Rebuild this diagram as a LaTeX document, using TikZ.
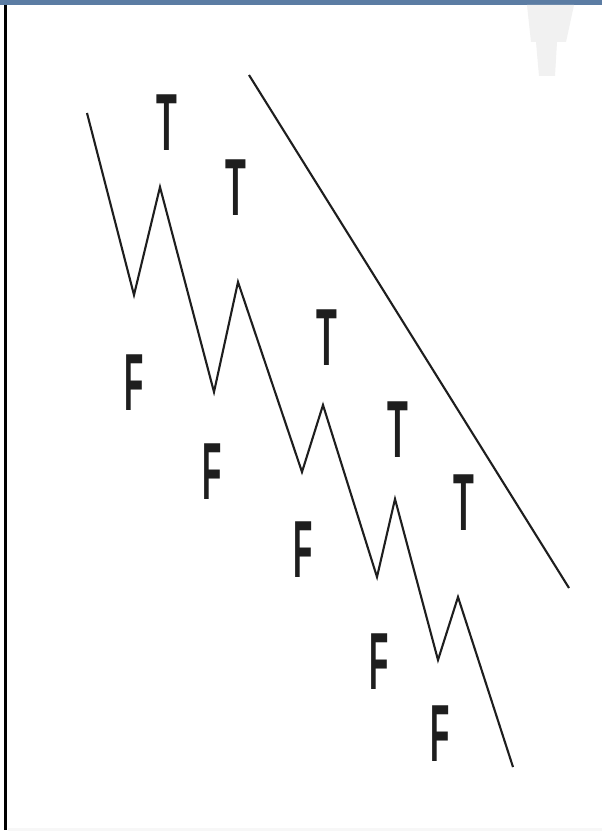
\documentclass[tikz,border=0pt]{standalone}
\usepackage{fontspec}
\newfontfamily\lblfont{Liberation Sans Bold}
\definecolor{barblue}{HTML}{5B7CA3}
\definecolor{ink}{HTML}{1E1E1E}
\definecolor{wm}{HTML}{F1F1F1}
\begin{document}
\begin{tikzpicture}[x=1pt,y=-1pt,
  wave/.style={draw=ink,line width=2.1pt,line join=miter},
  lblT/.style={inner sep=0pt,font=\lblfont\fontsize{81}{81}\selectfont,text=ink},
]
\useasboundingbox (0,0) rectangle (602,840);
\fill[white] (0,0) rectangle (602,840);
% top bar
\fill[barblue] (0,0) rectangle (602,5);
% left frame line
\draw[black,line width=3pt] (5,5) -- (5,830);
\draw[black!3,line width=3pt] (8,829) -- (602,829);
% faint watermark
\fill[wm] (527,5) -- (574,5) -- (566,42) -- (557,42) -- (555,76) -- (539,76) -- (536,42) -- (531,42) -- cycle;
% zigzag points
\coordinate (p0) at (87,113);
\coordinate (f1) at (134,295);
\coordinate (t1) at (160,187);
\coordinate (f2) at (214,392);
\coordinate (t2) at (238,282);
\coordinate (f3) at (302,472);
\coordinate (t3) at (323,405);
\coordinate (f4) at (377,577);
\coordinate (t4) at (395,499);
\coordinate (f5) at (438,660);
\coordinate (t5) at (458,597);
\coordinate (pe) at (513,767);
\draw[wave] (p0) -- (f1) -- (t1) -- (f2) -- (t2) -- (f3) -- (t3) -- (f4) -- (t4) -- (f5) -- (t5) -- (pe);
% trend line
\coordinate (a) at (249,75);
\coordinate (b) at (569,588);
\draw[wave] (a) -- (b);
% labels
\node[lblT] (T1) at (167,123) {\scalebox{0.42}[1]{T}};
\node[lblT] (T2) at (236,188) {\scalebox{0.42}[1]{T}};
\node[lblT] (T3) at (327,338) {\scalebox{0.42}[1]{T}};
\node[lblT] (T4) at (398,430) {\scalebox{0.42}[1]{T}};
\node[lblT] (T5) at (464,503) {\scalebox{0.42}[1]{T}};
\node[lblT] (F1) at (134,383) {\scalebox{0.39}[1]{F}};
\node[lblT] (F2) at (212,472) {\scalebox{0.39}[1]{F}};
\node[lblT] (F3) at (303,550) {\scalebox{0.39}[1]{F}};
\node[lblT] (F4) at (379,662) {\scalebox{0.39}[1]{F}};
\node[lblT] (F5) at (440,734) {\scalebox{0.39}[1]{F}};
\end{tikzpicture}
\end{document}
